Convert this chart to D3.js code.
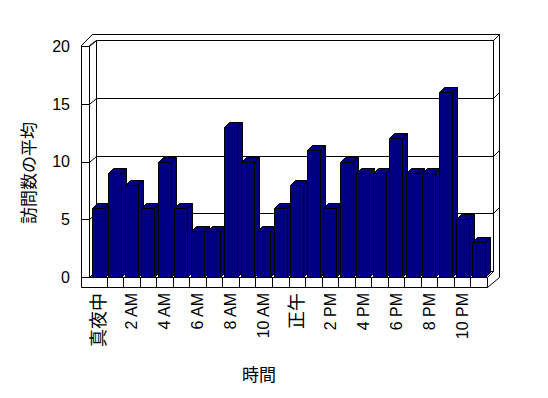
<!DOCTYPE html>
<html>
<head>
<meta charset="utf-8">
<script src="https://cdnjs.cloudflare.com/ajax/libs/d3/7.8.5/d3.min.js"></script>
<style>
  body { margin: 0; background: #fff; }
  text { font-family: "Liberation Sans", Arial, "Noto Sans CJK JP", sans-serif; fill: #000; }
  text.cjk { font-family: "Noto Sans CJK JP", sans-serif; }
</style>
</head>
<body>
<script>
// hours of the day (every other one is labelled)
var hours = ["真夜中", "1 AM", "2 AM", "3 AM", "4 AM", "5 AM", "6 AM", "7 AM",
             "8 AM", "9 AM", "10 AM", "11 AM", "正午", "1 PM", "2 PM", "3 PM",
             "4 PM", "5 PM", "6 PM", "7 PM", "8 PM", "9 PM", "10 PM", "11 PM"];
// average visits per hour
var visits = [6, 9, 8, 6, 10, 6, 4, 4, 13, 10, 4, 6, 8, 11, 6, 10, 9, 9, 12, 9, 9, 16, 5, 3];
var yTicks = [0, 5, 10, 15, 20];
var yTitle = "訪問数の平均";
var xTitle = "時間";

window.onload = function() {
  var width = 548, height = 398;

  // front plane of the floor / walls
  var left = 90, right = 487, zeroY = 277, topY = 46;
  var wallOuter = 81;
  // depth offsets: back wall and outer slab
  var dx = 6, dy = -6;
  var barDepth = 5;

  var svg = d3.select("body")
              .append("svg")
              .attr("width", width)
              .attr("height", height);

  svg.append("rect")
     .attr("width", width)
     .attr("height", height)
     .attr("fill", "#fff");

  var yScale = d3.scaleLinear()
                 .domain([0, 20])
                 .range([zeroY, topY]);

  var xScale = d3.scaleBand()
                 .domain(d3.range(hours.length))
                 .range([left, right])
                 .paddingInner(0.2)
                 .paddingOuter(0.1);

  var step = (right - left) / hours.length;

  var line = function(pts) { return "M" + pts.map(function(p) { return p.join(","); }).join("L"); };
  var isCjk = function(s) { return /[^\x00-\x7f]/.test(s); };

  var frame = svg.append("g")
                 .attr("class", "frame")
                 .attr("fill", "none")
                 .attr("stroke", "#000")
                 .attr("stroke-width", 1)
                 .attr("transform", "translate(0.5,0.5)");

  // outer slab outline
  frame.append("path")
       .attr("fill", "#fff")
       .attr("d", line([[wallOuter, topY - 1], [wallOuter + 11, topY - 12],
                        [right + 2 * dx, topY - 12], [right + 2 * dx, zeroY],
                        [right, zeroY + 10], [wallOuter, zeroY + 10]]) + "Z");

  // back wall
  frame.append("rect")
       .attr("x", left + dx)
       .attr("y", topY + dy)
       .attr("width", right - left)
       .attr("height", zeroY - topY);

  frame.append("path")
       .attr("d", line([[right + dx, topY + dy], [right + 2 * dx, topY + 2 * dy]]));

  // left wall inner edge
  frame.append("path")
       .attr("d", line([[left - 1, topY - 1], [left - 1, zeroY]]));
  frame.append("path")
       .attr("d", line([[left - 1, topY - 1], [left + dx, topY + dy]]));

  // floor
  frame.append("path")
       .attr("d", line([[left - 1, zeroY], [right, zeroY], [right, zeroY + 10]]));
  frame.append("path")
       .attr("d", line([[left - 1, zeroY], [left + dx, zeroY + dy]]));
  frame.append("path")
       .attr("d", line([[right, zeroY], [right + dx, zeroY + dy]]));

  frame.selectAll(".floortick")
       .data(d3.range(1, hours.length))
       .enter().append("path")
       .attr("class", "floortick")
       .attr("d", function(i) {
         var x = Math.round(left + i * step);
         return line([[x, zeroY], [x, zeroY + 10]]);
       });

  // gridlines on back wall plus their ticks on the side walls
  var grid = frame.selectAll(".grid")
                  .data(yTicks)
                  .enter().append("g")
                  .attr("class", "grid");

  grid.append("path")
      .attr("d", function(v) {
        var yb = Math.round(yScale(v) + dy);
        return v === 0 || v === 20 ? "" : line([[left + dx, yb], [right + dx, yb]]);
      });
  grid.append("path")
      .attr("d", function(v) {
        var yf = Math.round(yScale(v)), yb = Math.round(yScale(v) + dy);
        return line([[wallOuter, yf], [left - 1, yf], [left + dx, yb]]);
      });
  grid.append("path")
      .attr("d", function(v) {
        var yb = Math.round(yScale(v) + dy);
        return v === 0 ? "" : line([[right + dx, yb], [right + 2 * dx, yb + dy]]);
      });

  // 3d bars
  var bars = svg.append("g")
                .attr("class", "bars")
                .attr("fill", "#000080")
                .attr("stroke", "#000")
                .attr("stroke-width", 1)
                .attr("stroke-linejoin", "round")
                .attr("transform", "translate(0.5,0.5)")
                .selectAll("g")
                .data(visits)
                .enter().append("g");

  bars.append("path")
      .attr("d", function(d, i) {
        var x = Math.round(xScale(i)), w = Math.round(xScale.bandwidth()), y = Math.round(yScale(d));
        return line([[x + w, y], [x + w + barDepth, y - barDepth],
                     [x + w + barDepth, zeroY - barDepth], [x + w, zeroY]]) + "Z";
      });
  bars.append("path")
      .attr("d", function(d, i) {
        var x = Math.round(xScale(i)), w = Math.round(xScale.bandwidth()), y = Math.round(yScale(d));
        return line([[x, y], [x + barDepth, y - barDepth],
                     [x + w + barDepth, y - barDepth], [x + w, y]]) + "Z";
      });
  bars.append("rect")
      .attr("x", function(d, i) { return Math.round(xScale(i)); })
      .attr("y", function(d) { return Math.round(yScale(d)); })
      .attr("width", Math.round(xScale.bandwidth()))
      .attr("height", function(d) { return zeroY - Math.round(yScale(d)); });

  // y tick labels
  svg.selectAll(".ylabel")
     .data(yTicks)
     .enter().append("text")
     .attr("class", "ylabel")
     .attr("x", 70)
     .attr("y", function(v) { return yScale(v); })
     .attr("dy", "0.36em")
     .attr("text-anchor", "end")
     .style("font-size", "16px")
     .text(function(v) { return v; });

  // x tick labels, every other hour, rotated
  svg.selectAll(".xlabel")
     .data(hours.filter(function(h, i) { return i % 2 === 0; }))
     .enter().append("text")
     .attr("class", function(h) { return isCjk(h) ? "xlabel cjk" : "xlabel"; })
     .attr("transform", function(h, i) {
       var cx = left + (i * 2 + 0.5) * step;
       return "translate(" + cx + ",293) rotate(-90)";
     })
     .attr("dy", "0.36em")
     .attr("text-anchor", "end")
     .style("font-size", function(h) { return isCjk(h) ? "18px" : "16px"; })
     .text(function(h) { return h; });

  // axis titles
  svg.append("text")
     .attr("class", "cjk")
     .attr("transform", "translate(29,173) rotate(-90)")
     .attr("dy", "0.36em")
     .attr("text-anchor", "middle")
     .style("font-size", "17px")
     .text(yTitle);

  svg.append("text")
     .attr("class", "cjk")
     .attr("x", 259)
     .attr("y", 375)
     .attr("dy", "0.36em")
     .attr("text-anchor", "middle")
     .style("font-size", "17px")
     .text(xTitle);
};
</script>
</body>
</html>
